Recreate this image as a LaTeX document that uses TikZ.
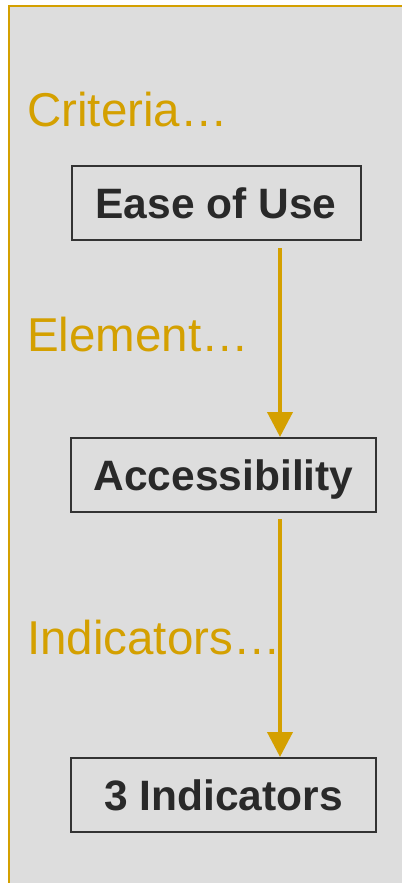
\documentclass[tikz,border=0pt]{standalone}
\usepackage{fontspec}
\setmainfont{Liberation Sans}
\usetikzlibrary{arrows.meta}
\definecolor{gold}{RGB}{212,160,0}
\definecolor{bggray}{RGB}{221,221,221}
\definecolor{boxline}{RGB}{51,51,51}
\definecolor{boxtext}{RGB}{41,41,41}
\begin{document}
\begin{tikzpicture}
[x=1pt,y=-1pt,
 box/.style={draw=boxline,line width=2pt,text=boxtext,inner sep=0pt,
   font=\fontsize{42.5}{50}\selectfont\bfseries,
   text height=30pt,text depth=0pt,minimum height=74pt},
 tag/.style={anchor=base west,inner sep=0pt,text=gold,
   font=\fontsize{47.5}{57}\selectfont},
 flow/.style={draw=gold,line width=4pt,-{Triangle[width=25pt,length=25pt]}}]
\useasboundingbox (0,0) rectangle (402,883);
% panel
\fill[bggray] (9,6) rectangle (402,883);
\draw[gold,line width=2.5pt] (9,883) -- (9,6) -- (402,6);
% labels
\node[tag] (criteria) at (27,126) {Criteria…};
\node[tag] (element) at (27,351) {Element…};
\node[tag] (indicators) at (27,654) {Indicators…};
% boxes
\node[box,minimum width=289pt] (ease) at (216,203) {Ease of Use};
\node[box,minimum width=305pt] (access) at (223.5,475) {Accessibility};
\node[box,minimum width=305pt] (three) at (223.5,795) {3 Indicators};
% arrows
\coordinate (ax) at (280,0);
\draw[flow] ([yshift=-7pt]ease.south -| ax) -- (access.north -| ax);
\draw[flow] ([yshift=-6pt]access.south -| ax) -- (three.north -| ax);
\end{tikzpicture}
\end{document}
